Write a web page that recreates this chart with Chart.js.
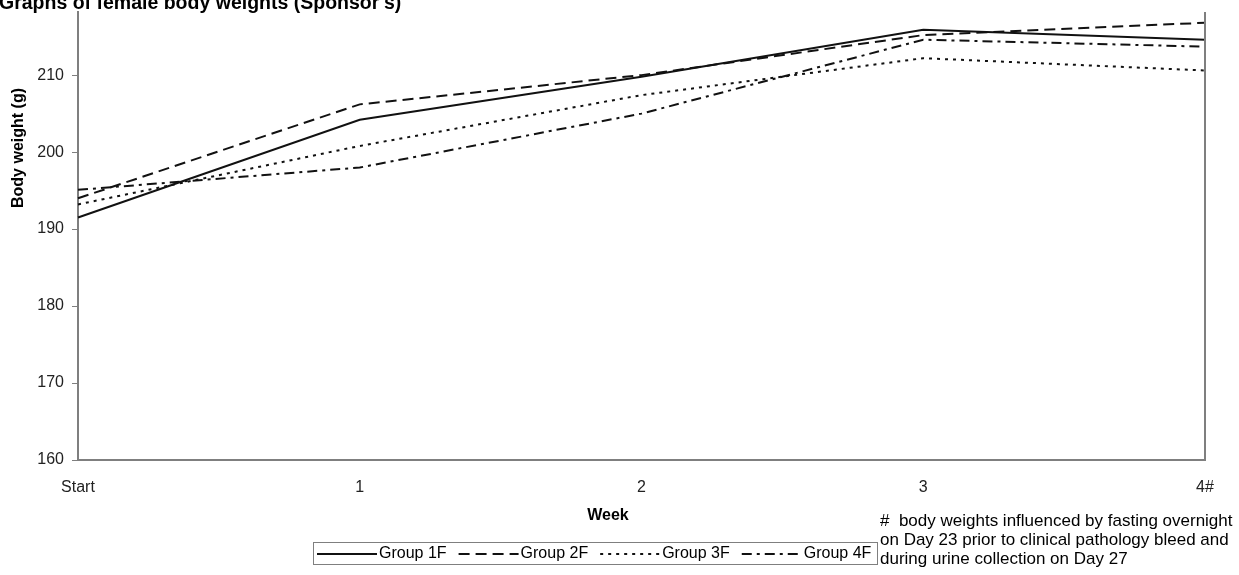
<!DOCTYPE html>
<html>
<head>
<meta charset="utf-8">
<title>Graphs of female body weights</title>
<script src="https://cdn.jsdelivr.net/npm/chart.js@4.4.1/dist/chart.umd.min.js"></script>
<style>
  html, body { margin: 0; padding: 0; background: #fff; }
</style>
</head>
<body>
<canvas id="weightChart" width="1239" height="575"></canvas>
<script>
// values
const weeks = ['Start', '1', '2', '3', '4#'];
const group1F = [191.5, 204.2, 209.8, 215.9, 214.6];
const group2F = [194.0, 206.2, 210.0, 215.2, 216.8];
const group3F = [193.2, 200.8, 207.4, 212.2, 210.6];
const group4F = [195.1, 198.0, 205.0, 214.6, 213.7];
const yTicks = [160, 170, 180, 190, 200, 210];
const chartTitle = "Graphs of female body weights (Sponsor's)";
const yTitle = 'Body weight (g)';
const xTitle = 'Week';
const footnote = [
    '#  body weights influenced by fasting overnight',
    'on Day 23 prior to clinical pathology bleed and',
    'during urine collection on Day 27'
];

const FONT = '"Liberation Sans", Arial, sans-serif';
const AXIS_GREY = '#7f7f7f';

// texts, legend and the right border of the plot
const extras = {
    id: 'extras',
    afterDraw(chart) {
        const ctx = chart.ctx;
        const area = chart.chartArea;
        ctx.save();

        // right border
        ctx.strokeStyle = AXIS_GREY;
        ctx.lineWidth = 2;
        ctx.beginPath();
        ctx.moveTo(area.right, area.top);
        ctx.lineTo(area.right, area.bottom);
        ctx.stroke();

        ctx.fillStyle = '#000';
        ctx.font = 'bold 19.5px ' + FONT;
        ctx.textBaseline = 'alphabetic';
        ctx.textAlign = 'left';
        ctx.fillText(chartTitle, -1, 8.5);

        // y axis title
        ctx.save();
        ctx.translate(18.5, 148);
        ctx.rotate(-Math.PI / 2);
        ctx.font = 'bold 16px ' + FONT;
        ctx.textAlign = 'center';
        ctx.textBaseline = 'middle';
        ctx.fillText(yTitle, 0, 0);
        ctx.restore();

        // x axis title
        ctx.font = 'bold 16px ' + FONT;
        ctx.textAlign = 'center';
        ctx.textBaseline = 'middle';
        ctx.fillText(xTitle, 608, 516);

        // footnote
        ctx.font = '17px ' + FONT;
        ctx.textAlign = 'left';
        footnote.forEach((line, i) => {
            ctx.fillText(line, 880, 521 + i * 19);
        });

        // legend
        const box = { x: 313, y: 542, w: 564, h: 22 };
        ctx.strokeStyle = AXIS_GREY;
        ctx.lineWidth = 1;
        ctx.strokeRect(box.x + 0.5, box.y + 0.5, box.w, box.h);
        ctx.font = '16px ' + FONT;
        const cy = box.y + box.h / 2 + 1;
        let x = box.x + 4;
        chart.data.datasets.forEach(ds => {
            ctx.strokeStyle = ds.borderColor;
            ctx.lineWidth = ds.borderWidth;
            ctx.setLineDash(ds.borderDash || []);
            ctx.beginPath();
            ctx.moveTo(x, cy);
            ctx.lineTo(x + 60, cy);
            ctx.stroke();
            ctx.setLineDash([]);
            x += 62;
            ctx.fillStyle = '#000';
            ctx.fillText(ds.label, x, cy);
            x += ctx.measureText(ds.label).width + 12;
        });

        ctx.restore();
    }
};

function series(label, data, dash) {
    return {
        label: label,
        data: data,
        borderColor: '#111',
        borderWidth: 2,
        borderDash: dash,
        pointRadius: 0,
        tension: 0,
        fill: false
    };
}

new Chart(document.getElementById('weightChart'), {
    type: 'line',
    data: {
        labels: weeks,
        datasets: [
            series('Group 1F', group1F, []),
            series('Group 2F', group2F, [11, 6]),
            series('Group 3F', group3F, [3, 5]),
            series('Group 4F', group4F, [10, 5, 3, 5])
        ]
    },
    options: {
        responsive: false,
        animation: false,
        devicePixelRatio: 1,
        layout: { padding: { top: 12, right: 34, left: 0, bottom: 0 } },
        plugins: {
            legend: { display: false },
            tooltip: { enabled: false }
        },
        scales: {
            x: {
                offset: false,
                grid: { display: false },
                border: { display: true, color: AXIS_GREY, width: 2 },
                ticks: {
                    color: '#222',
                    font: { family: FONT, size: 16 },
                    padding: 10,
                    maxRotation: 0,
                    autoSkip: false
                },
                afterFit(scale) { scale.height = 115; }
            },
            y: {
                min: 160,
                max: 218.2,
                afterBuildTicks(scale) {
                    scale.ticks = yTicks.map(v => ({ value: v }));
                },
                grid: {
                    drawOnChartArea: false,
                    drawTicks: true,
                    tickLength: 6,
                    color: AXIS_GREY,
                    lineWidth: 1
                },
                border: { display: true, color: AXIS_GREY, width: 2 },
                ticks: {
                    color: '#222',
                    font: { family: FONT, size: 16 },
                    padding: 8
                },
                afterFit(scale) {
                    scale.width = 78;
                    scale.paddingTop = 0;
                    scale.paddingBottom = 0;
                }
            }
        }
    },
    plugins: [extras]
});
</script>
</body>
</html>
